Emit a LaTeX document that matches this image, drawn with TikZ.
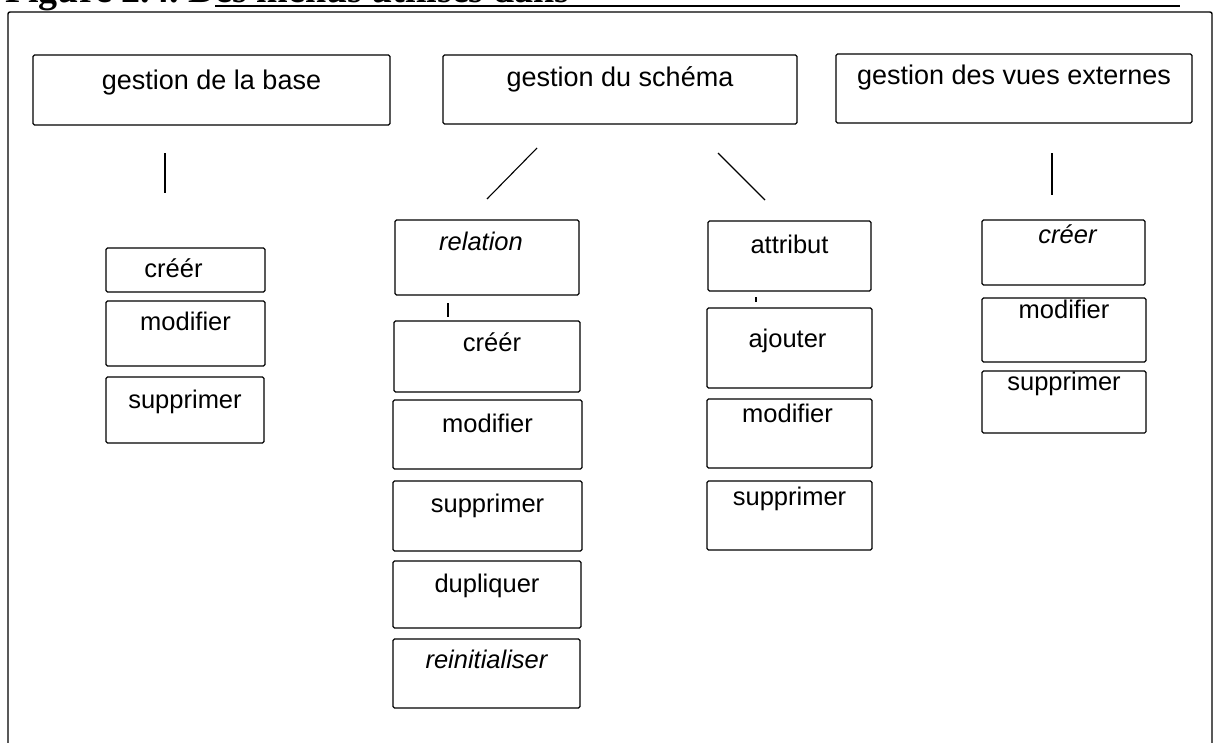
\documentclass[tikz,border=0pt]{standalone}
\usepackage{fontspec}
\setmainfont{Liberation Sans}
\newfontfamily\capfont{Liberation Serif}

% #1 name, #2-#5 box corners (x1,y1,x2,y2), #6 text baseline, #7 text x offset, #8 text style, #9 text
\newcommand\menubox[9]{%
  \node[menu, minimum width={(#4-#2)*1pt}, minimum height={(#5-#3)*1pt},
        anchor=north west] (#1) at (#2,#3) {};
  \node[#8] (#1-t) at ({(#2+#4)/2+#7},#6) {#9};%
}

\begin{document}
\begin{tikzpicture}[x=1pt,y=-1pt,
  menu/.style={draw, line width=1.1pt, rounded corners=1.5pt, inner sep=0pt, outer sep=0pt},
  lbl/.style={anchor=base, inner sep=0pt, font=\fontsize{25.5}{30}\selectfont},
  ilbl/.style={lbl, font=\fontsize{25.5}{30}\selectfont\itshape},
  toplbl/.style={anchor=base, inner sep=0pt, font=\fontsize{27}{32}\selectfont},
  link/.style={line width=1.1pt},
  frame/.style={line width=1.4pt, rounded corners=2pt}]
\useasboundingbox (0,0) rectangle (1222,742);

% caption above the frame (only its lower edge falls on the page)
\node[anchor=base west, inner sep=0pt, font=\capfont\bfseries\fontsize{38}{44}\selectfont]
  (cap) at (5,2) {Figure 2.4.\ Des menus utilisés dans};
\coordinate (ul-a) at (215,6);
\coordinate (ul-b) at (1180,6);
\draw[line width=1.4pt] (ul-a) -- (ul-b);

% outer frame, open at the bottom edge of the page
\coordinate (fr-bl) at (8,760);
\coordinate (fr-tl) at (8,12);
\coordinate (fr-tr) at (1212,12);
\coordinate (fr-br) at (1212,760);
\draw[frame] (fr-bl) -- (fr-tl) -- (fr-tr) -- (fr-br);

% top-level menus
\menubox{base}{33}{55}{390}{125}{89}{0}{toplbl}{gestion de la base}
\menubox{schema}{443}{55}{797}{124}{86}{0}{toplbl}{gestion du schéma}
\menubox{vues}{836}{54}{1192}{123}{84}{0}{toplbl}{gestion des vues externes}

% gestion de la base
\menubox{creer1}{106}{248}{265}{292}{277}{-12}{lbl}{créér}
\menubox{modifier1}{106}{301}{265}{366}{330}{0}{lbl}{modifier}
\menubox{supprimer1}{106}{377}{264}{443}{408}{0}{lbl}{supprimer}

% gestion du schema : relation
\menubox{relation}{395}{220}{579}{295}{250}{-6}{ilbl}{relation}
\menubox{creer2}{394}{321}{580}{392}{351}{5}{lbl}{créér}
\menubox{modifier2}{393}{400}{582}{469}{432}{0}{lbl}{modifier}
\menubox{supprimer2}{393}{481}{582}{551}{512}{0}{lbl}{supprimer}
\menubox{dupliquer}{393}{561}{581}{628}{592}{0}{lbl}{dupliquer}
\menubox{reinit}{393}{639}{580}{708}{668}{0}{ilbl}{reinitialiser}

% gestion du schema : attribut
\menubox{attribut}{708}{221}{871}{291}{253}{0}{lbl}{attribut}
\menubox{ajouter}{707}{308}{872}{388}{347}{-2}{lbl}{ajouter}
\menubox{modifier3}{707}{399}{872}{468}{422}{-2}{lbl}{modifier}
\menubox{supprimer3}{707}{481}{872}{550}{505}{0}{lbl}{supprimer}

% gestion des vues externes
\menubox{creer4}{982}{220}{1145}{285}{243}{4}{ilbl}{créer}
\menubox{modifier4}{982}{298}{1146}{362}{318}{0}{lbl}{modifier}
\menubox{supprimer4}{982}{371}{1146}{433}{390}{0}{lbl}{supprimer}

% free-standing connector strokes between the levels
\coordinate (base-a) at (165,153);   \coordinate (base-b) at (165,193);
\coordinate (sch-la) at (537,148);   \coordinate (sch-lb) at (487,199);
\coordinate (sch-ra) at (718,153);   \coordinate (sch-rb) at (765,200);
\coordinate (vues-a) at (1052,153);  \coordinate (vues-b) at (1052,195);
\coordinate (rel-a) at (448,303);    \coordinate (rel-b) at (448,317);
\coordinate (att-a) at (756,297);    \coordinate (att-b) at (756,302);
\draw[link] (base-a) -- (base-b);
\draw[link] (sch-la) -- (sch-lb);
\draw[link] (sch-ra) -- (sch-rb);
\draw[link] (vues-a) -- (vues-b);
\draw[link] (rel-a) -- (rel-b);
\draw[link] (att-a) -- (att-b);
\end{tikzpicture}
\end{document}
